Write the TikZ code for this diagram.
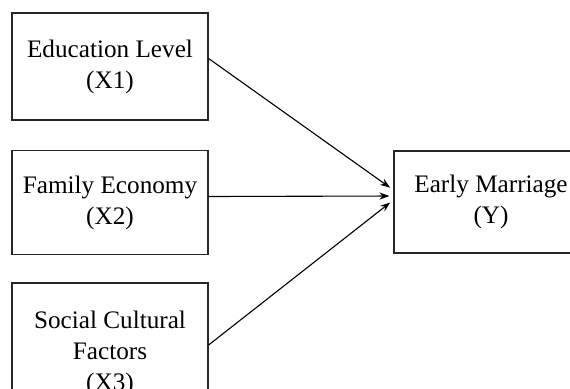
\documentclass[tikz,border=0pt]{standalone}
\usepackage{fontspec}
\setmainfont{Liberation Serif}
\usepackage{tikz}
\usetikzlibrary{calc}
\usetikzlibrary{arrows.meta,positioning}

\tikzset{
  varbox/.style={draw=black!85,line width=0.6pt,align=center,inner sep=0pt,
    minimum width=98pt,font=\fontsize{12.6}{15.5}\selectfont},
  effect/.style={-{Stealth[length=5pt,width=3.6pt]},line width=0.55pt,shorten >=2pt}
}

\begin{document}
\begin{tikzpicture}[x=0.5pt,y=-0.5pt]
        \useasboundingbox (0,0) rectangle (570,388);
        \node[varbox,minimum height=53.5pt] (edu) at (110,66.5) {Education Level\\(X1)};
        \node[varbox,minimum height=52pt] (fam) at (110,202.5) {Family Economy\\(X2)};
        \node[varbox,minimum height=70pt] (soc) at (110,353) {Social Cultural\\Factors\\(X3)};
        \node[varbox,minimum width=97pt,minimum height=51pt] (marr) at (491,202) {Early Marriage\\(Y)};
        \draw[effect] ([yshift=4pt]edu.east) -- ([yshift=6pt]marr.west);
        \draw[effect] ([yshift=3pt]fam.east) -- ([yshift=3pt]marr.west);
        \draw[effect] ([yshift=4pt]soc.east) -- ([yshift=1pt]marr.west);
      \end{tikzpicture}
\end{document}
